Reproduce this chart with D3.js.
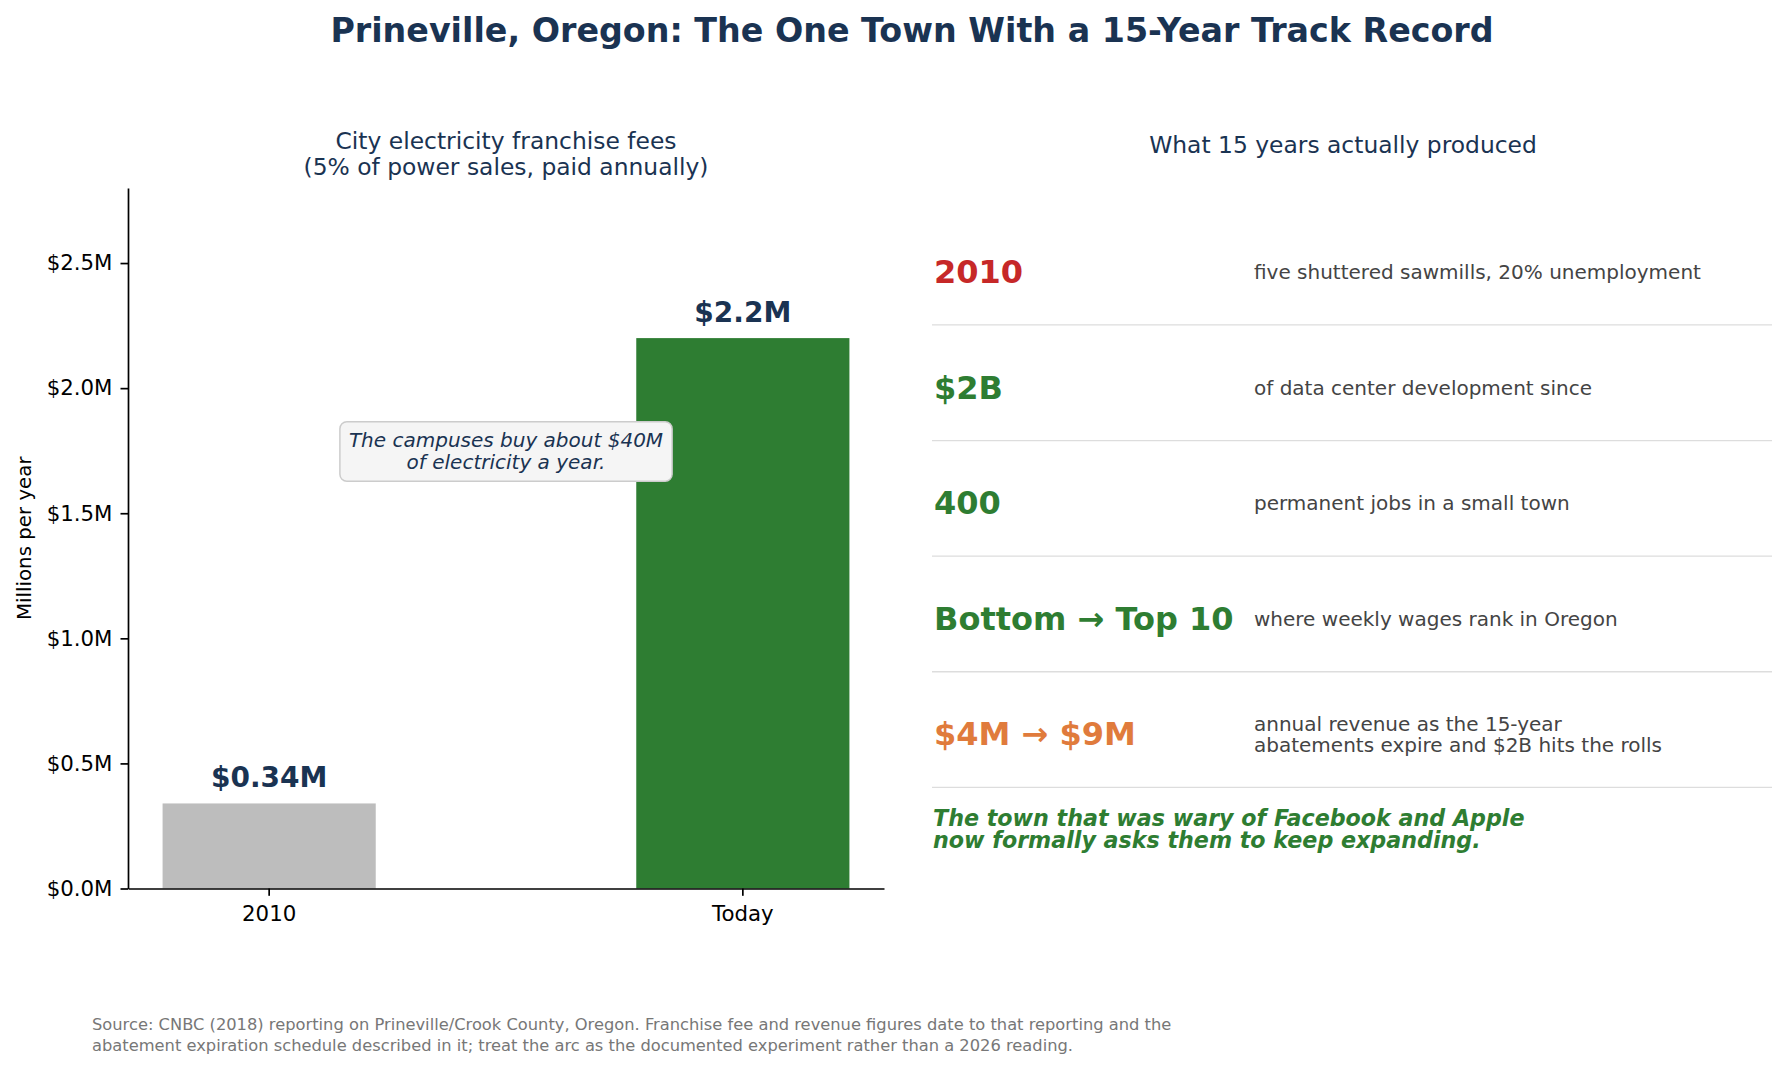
<!DOCTYPE html>
<html lang="en">
<head>
<meta charset="UTF-8">
<title>Prineville, Oregon</title>
<script src="https://cdn.jsdelivr.net/npm/d3@7/dist/d3.min.js"></script>
<style>
  body { margin: 0; background: #fff; }
  svg { display: block; font-family: "DejaVu Sans", sans-serif; }
</style>
</head>
<body>
<script>
// bar panel data
var categories = ["2010", "Today"];
var fees = [0.34, 2.2];              // millions of dollars per year
var feeLabels = ["$0.34M", "$2.2M"];
var yTicks = [0, 0.5, 1.0, 1.5, 2.0, 2.5];

// right panel data
var statLabels = ["2010", "$2B", "400", "Bottom \u2192 Top 10", "$4M \u2192 $9M"];
var statNotes = [
    ["five shuttered sawmills, 20% unemployment"],
    ["of data center development since"],
    ["permanent jobs in a small town"],
    ["where weekly wages rank in Oregon"],
    ["annual revenue as the 15-year", "abatements expire and $2B hits the rolls"]
];
var closingLines = ["The town that was wary of Facebook and Apple",
                    "now formally asks them to keep expanding."];
var sourceLines = [
    "Source: CNBC (2018) reporting on Prineville/Crook County, Oregon. Franchise fee and revenue figures date to that reporting and the",
    "abatement expiration schedule described in it; treat the arc as the documented experiment rather than a 2026 reading."
];

// colours
var navy = "#1a3352";
var barColors = ["#bdbdbd", "#2e7d32"];
var statColors = ["#c62828", "#2e7d32", "#2e7d32", "#2e7d32", "#e07b3c"];

var width = 1791, height = 1068;
var svg = d3.select("body").append("svg")
    .attr("width", width)
    .attr("height", height);

svg.append("text")
    .attr("x", 912).attr("y", 42)
    .attr("text-anchor", "middle")
    .style("font-size", "33.3px").style("font-weight", "bold")
    .style("fill", navy)
    .text("Prineville, Oregon: The One Town With a 15-Year Track Record");

// ---- left: bars ----
var axL = 128, axR = 884, axT = 188, axB = 888.5;

var x = d3.scaleBand()
    .domain(categories)
    .range([axL, axR])
    .paddingInner(0.55)
    .paddingOuter(0.073);

var y = d3.scaleLinear()
    .domain([0, 2.8])
    .range([axB, axT]);

var sub = svg.append("text")
    .attr("text-anchor", "middle")
    .style("font-size", "23.4px").style("fill", navy);
sub.append("tspan").attr("x", (axL + axR) / 2).attr("y", 149)
    .text("City electricity franchise fees");
sub.append("tspan").attr("x", (axL + axR) / 2).attr("y", 175)
    .text("(5% of power sales, paid annually)");

var gBars = svg.append("g");
gBars.selectAll("rect")
    .data(fees)
    .enter()
    .append("rect")
    .attr("x", function(d, i){ return x(categories[i]); })
    .attr("y", function(d){ return y(d); })
    .attr("width", x.bandwidth())
    .attr("height", function(d){ return y(0) - y(d); })
    .style("fill", function(d, i){ return barColors[i]; });

gBars.selectAll("text")
    .data(fees)
    .enter()
    .append("text")
    .attr("x", function(d, i){ return x(categories[i]) + x.bandwidth() / 2; })
    .attr("y", function(d){ return y(d) - 16.5; })
    .attr("text-anchor", "middle")
    .style("font-size", "28px").style("font-weight", "bold")
    .style("fill", navy)
    .text(function(d, i){ return feeLabels[i]; });

// tickSize sets the outer size too, so tickSizeOuter has to come after it
var xAxis = d3.axisBottom(x).tickSize(7.3).tickSizeOuter(0).tickPadding(10);
var yAxis = d3.axisLeft(y).tickValues(yTicks).tickSize(7.5).tickSizeOuter(0).tickPadding(8)
    .tickFormat(function(d){ return "$" + d.toFixed(1) + "M"; });

var gx = svg.append("g")
    .attr("transform", "translate(0," + axB + ")")
    .call(xAxis);
var gy = svg.append("g")
    .attr("transform", "translate(" + axL + ",0)")
    .call(yAxis);

[gx, gy].forEach(function(g){
    g.select(".domain").attr("stroke", "#000").attr("stroke-width", 1.7);
    g.selectAll(".tick line").attr("stroke", "#000").attr("stroke-width", 1.7);
    g.selectAll(".tick text")
        .attr("fill", "#000")
        .style("font-family", "DejaVu Sans")
        .style("font-size", "21.3px");
});

svg.append("text")
    .attr("transform", "translate(24," + ((axT + axB) / 2) + ") rotate(-90)")
    .attr("text-anchor", "middle")
    .attr("dominant-baseline", "central")
    .style("font-size", "19.8px").style("fill", "#000")
    .text("Millions per year");

// annotation box
var note = svg.append("g");
var noteText = note.append("text")
    .attr("text-anchor", "middle")
    .style("font-size", "20px").style("font-style", "italic")
    .style("fill", navy);
noteText.append("tspan").attr("x", (axL + axR) / 2).attr("y", 446.7)
    .text("The campuses buy about $40M");
noteText.append("tspan").attr("x", (axL + axR) / 2).attr("y", 469.3)
    .text("of electricity a year.");
var bb = noteText.node().getBBox();
note.insert("rect", "text")
    .attr("x", bb.x - 9).attr("y", bb.y - 6)
    .attr("width", bb.width + 18).attr("height", bb.height + 13)
    .attr("rx", 7).attr("ry", 7)
    .style("fill", "#f5f5f5").style("stroke", "#cccccc").style("stroke-width", 1.5);

// ---- right: stat rows ----
var rx0 = 932, rx1 = 1772, labelX = 934, noteX = 1254;

svg.append("text")
    .attr("x", 1343).attr("y", 153)
    .attr("text-anchor", "middle")
    .style("font-size", "23.4px").style("fill", navy)
    .text("What 15 years actually produced");

var rowY = d3.scaleLinear()
    .domain([0, 4])
    .range([272, 734.4]);

var rows = svg.append("g").selectAll("g")
    .data(statLabels)
    .enter()
    .append("g");

rows.append("text")
    .attr("x", labelX)
    .attr("y", function(d, i){ return rowY(i); })
    .attr("dominant-baseline", "central")
    .style("font-size", "32px").style("font-weight", "bold")
    .style("fill", function(d, i){ return statColors[i]; })
    .text(function(d){ return d; });

rows.append("text")
    .style("font-size", "20px").style("fill", "#444")
    .each(function(d, i){
        var lines = statNotes[i];
        var t = d3.select(this);
        lines.forEach(function(line, k){
            t.append("tspan")
                .attr("x", noteX)
                .attr("y", rowY(i) + (k - (lines.length - 1) / 2) * 21.6)
                .attr("dominant-baseline", "central")
                .text(line);
        });
    });

rows.append("line")
    .attr("x1", rx0).attr("x2", rx1)
    .attr("y1", function(d, i){ return rowY(i + 0.458); })
    .attr("y2", function(d, i){ return rowY(i + 0.458); })
    .style("stroke", "#dddddd").style("stroke-width", 1.3);

var closing = svg.append("text")
    .style("font-size", "22.2px").style("font-weight", "bold").style("font-style", "italic")
    .style("fill", "#2e7d32");
closingLines.forEach(function(line, k){
    closing.append("tspan")
        .attr("x", 933)
        .attr("y", rowY(4.72) + k * 22.7)
        .attr("dominant-baseline", "central")
        .text(line);
});

// source footnote
var src = svg.append("text")
    .style("font-size", "16.3px").style("fill", "#777");
sourceLines.forEach(function(line, k){
    src.append("tspan").attr("x", 92).attr("y", 1030 + k * 20.5).text(line);
});
</script>
</body>
</html>
